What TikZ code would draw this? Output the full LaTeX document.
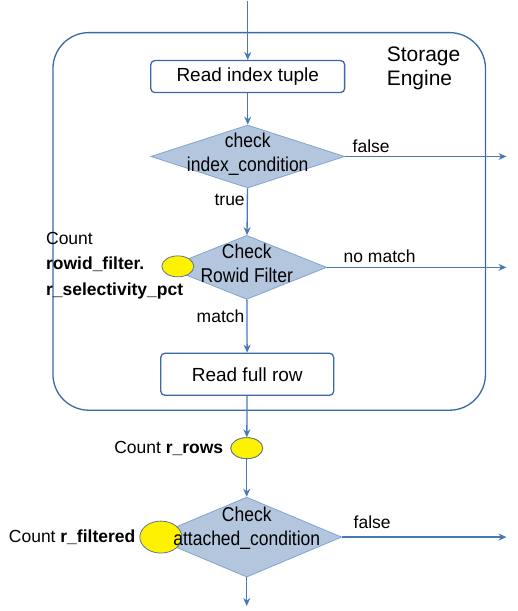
\documentclass[tikz,border=0pt]{standalone}
\usepackage{fontspec}
\setmainfont{Liberation Sans}
\newfontfamily\condfont[FakeStretch=0.875]{Liberation Sans}
\usepackage{tikz}
\usetikzlibrary{positioning,shapes.geometric,arrows.meta}

\definecolor{flowline}{HTML}{4A78B6}
\definecolor{boxline}{HTML}{3A68A8}
\definecolor{condfill}{HTML}{B3C6DE}
\definecolor{condline}{HTML}{7EA4D2}
\definecolor{cntline}{HTML}{5F7390}

\begin{document}
\begin{tikzpicture}[
	x=1pt, y=-1pt,
	every node/.style={font=\fontsize{17.5}{24}\selectfont, inner sep=3pt},
	flow/.style={draw=flowline, line width=1.3pt, -{Stealth[length=8pt,width=7pt]}},
	engine/.style={rectangle, draw=boxline, line width=1.3pt, rounded corners=36pt,
		minimum width=433pt, minimum height=378pt},
	stepbox/.style={rectangle, draw=boxline, line width=1.3pt, rounded corners=4pt,
		minimum height=32pt, font=\fontsize{19}{24}\selectfont},
	cond/.style={diamond, draw=condline, fill=condfill, line width=0.8pt, inner sep=0pt},
	cond text/.style={align=center, inner sep=0pt, font=\condfont\fontsize{20}{24}\selectfont},
	counter/.style={ellipse, draw=cntline, fill=yellow, line width=0.8pt, inner sep=0pt},
	edgelabel/.style={inner sep=2pt}
	]
	% storage engine frame
	\node (se) [engine] at (269.5,221) {};
	\node (sel) [anchor=north west, align=left, inner sep=0pt,
		font=\fontsize{21}{24}\selectfont] at (387,46) {Storage\\Engine};

	% steps inside the engine
	\coordinate (top) at (248,0);
	\node (rit) [stepbox, minimum width=194pt] at (248,76) {Read index tuple};
	\node (d1) [cond, minimum width=194pt, minimum height=63pt] at (248,156) {};
	\node (d2) [cond, minimum width=160pt, minimum height=64pt] at (247,267) {};
	\node (ecr) [counter, minimum width=32pt, minimum height=21pt] at (178,266) {};
	\node (ecrl) [anchor=west, align=left, inner sep=0pt,
		font=\fontsize{17.5}{25.5}\selectfont] at (46,265)
		{Count\\\textbf{rowid\_filter.}\\\textbf{r\_selectivity\_pct}};
	\node (rfr) [stepbox, minimum width=173pt, minimum height=42pt] at (247.5,374) {Read full row};

	% counters and the attached condition
	\node (er) [counter, minimum width=32pt, minimum height=21pt] at (247,448) {};
	\node (erl) [left=7pt of er, inner sep=0pt] {Count \textbf{r\_rows}};
	\node (d3) [cond, minimum width=190pt, minimum height=80pt] at (247,537) {};
	\node (ef) [counter, minimum width=42pt, minimum height=32pt] at (161,537) {};
	\node (efl) [left=4pt of ef, inner sep=0pt] {Count \textbf{r\_filtered}};
	\coordinate (bot) at (247,606);

	% texts of the conditions, over the counters
	\node (d1t) [cond text] at (248,154) {check\\index\_condition};
	\node (d2t) [cond text] at (247,263) {Check\\Rowid Filter};
	\node (d3t) [cond text] at (247,528) {Check\\attached\_condition};

	% free ends on the right
	\coordinate (o1) at (507,156);
	\coordinate (o2) at (507,267);
	\coordinate (o3) at (507,537);

	% connectors
	\draw[flow] (top) -- (rit);
	\draw[flow] (rit) -- (d1);
	\draw[flow] (d1) -- node[edgelabel, pos=.24, left] {true} (d2);
	\draw[flow] (d2) -- node[edgelabel, pos=.32, left] {match} (rfr);
	\draw[flow] (rfr) -- (er);
	\draw[flow] (er) -- (d3);
	\draw[flow] (d3) -- (bot);
	\draw[flow] (d1.east) -- node[edgelabel, pos=0, anchor=south west, xshift=5pt, yshift=1pt] {false} (o1);
	\draw[flow] (d2.east) -- node[edgelabel, pos=0, anchor=south west, xshift=14pt, yshift=2pt] {no match} (o2);
	\draw[flow] (d3.east) -- node[edgelabel, pos=0, anchor=south west, xshift=9pt, yshift=6pt] {false} (o3);

	% counter on top of the lines
	\node[counter, minimum width=32pt, minimum height=21pt] at (er) {};
	\useasboundingbox (0,0) rectangle (518,611);
\end{tikzpicture}
\end{document}
